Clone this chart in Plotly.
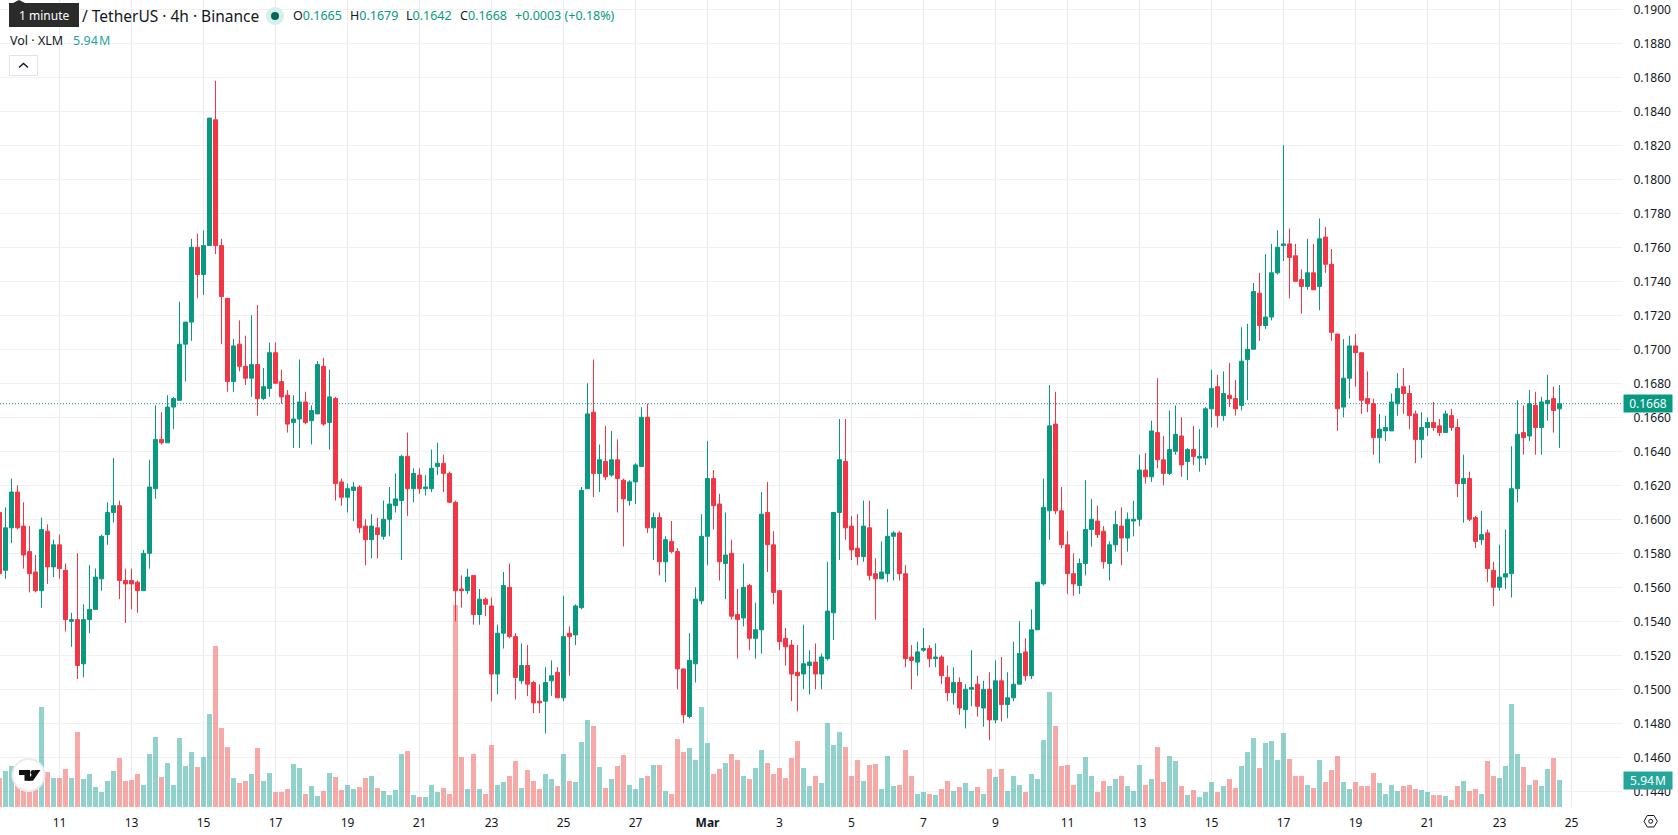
import pandas as pd
import plotly.graph_objects as go

# XLM / USDT, 4h candles. Prices are in ten-thousandths of a dollar, volume in millions.
START = "2022-02-09 08:00"
PRICE_UNIT = 10000

OPEN = [
    1604,1570,1595,1616,1596,1581,1569,1558,1593,1572,
    1585,1570,1540,1541,1515,1541,1547,1565,1591,1604,
    1608,1564,1564,1563,1558,1580,1618,1647,1645,1666,
    1670,1703,1716,1760,1744,1761,1835,1761,1730,1681,
    1703,1690,1683,1691,1671,1677,1698,1681,1673,1657,
    1659,1669,1658,1662,1690,1657,1671,1622,1613,1617,
    1619,1596,1588,1595,1590,1600,1608,1611,1637,1618,
    1626,1618,1618,1631,1633,1627,1610,1559,1558,1567,
    1544,1553,1549,1509,1533,1560,1531,1505,1514,1504,
    1493,1493,1505,1510,1495,1533,1532,1548,1618,1663,
    1627,1634,1626,1635,1623,1611,1622,1631,1660,1595,
    1601,1575,1587,1581,1512,1484,1515,1552,1590,1624,
    1609,1574,1580,1544,1542,1561,1530,1535,1604,1585,
    1558,1530,1526,1510,1509,1514,1516,1509,1518,1545,
    1604,1634,1596,1583,1578,1595,1568,1565,1568,1590,
    1592,1568,1519,1516,1523,1524,1518,1519,1507,1498,
    1504,1488,1500,1503,1489,1500,1482,1505,1491,1495,
    1503,1522,1508,1535,1562,1605,1656,1605,1585,1568,
    1561,1574,1594,1599,1593,1574,1585,1596,1589,1599,
    1600,1629,1625,1651,1635,1627,1640,1649,1634,1641,
    1636,1636,1665,1678,1661,1673,1671,1667,1694,1700,
    1733,1714,1719,1745,1761,1762,1755,1741,1737,1745,
    1737,1766,1750,1709,1666,1683,1702,1698,1671,1668,
    1648,1652,1652,1668,1678,1674,1662,1647,1654,1657,
    1655,1651,1661,1654,1621,1624,1601,1588,1592,1570,
    1560,1566,1568,1618,1651,1649,1667,1654,1668,1671,
    1665,
]
HIGH = [
    1606,1607,1624,1620,1610,1596,1579,1601,1597,1588,
    1591,1574,1545,1580,1550,1573,1571,1591,1610,1636,
    1611,1571,1571,1564,1582,1635,1667,1663,1673,1672,
    1728,1716,1765,1768,1770,1836,1858,1765,1730,1706,
    1717,1708,1720,1726,1689,1704,1704,1688,1676,1673,
    1694,1675,1667,1693,1695,1688,1672,1624,1621,1622,
    1620,1600,1603,1601,1611,1619,1627,1638,1651,1630,
    1630,1626,1641,1645,1638,1628,1611,1567,1571,1567,
    1559,1554,1554,1538,1569,1574,1533,1527,1526,1505,
    1503,1513,1517,1513,1555,1537,1550,1619,1680,1694,
    1644,1655,1652,1647,1624,1623,1633,1666,1668,1604,
    1604,1590,1599,1583,1512,1533,1560,1603,1646,1629,
    1615,1604,1588,1559,1574,1562,1551,1616,1622,1593,
    1558,1536,1529,1526,1538,1523,1527,1521,1575,1604,
    1659,1659,1602,1603,1611,1611,1577,1587,1606,1593,
    1593,1573,1526,1528,1536,1526,1527,1520,1514,1513,
    1507,1503,1523,1508,1505,1510,1517,1519,1510,1528,
    1540,1530,1547,1563,1624,1679,1675,1619,1593,1580,
    1577,1623,1612,1608,1596,1587,1605,1607,1604,1611,
    1638,1639,1658,1683,1649,1664,1667,1660,1642,1655,
    1653,1666,1688,1685,1687,1692,1682,1713,1715,1739,
    1745,1756,1762,1770,1820,1771,1762,1747,1765,1762,
    1777,1772,1759,1709,1706,1708,1709,1698,1687,1671,
    1662,1661,1674,1686,1689,1679,1664,1663,1660,1669,
    1659,1664,1665,1659,1638,1628,1602,1605,1594,1575,
    1585,1594,1643,1670,1667,1676,1675,1672,1685,1678,
    1679,
]
LOW = [
    1566,1565,1586,1594,1571,1557,1557,1548,1562,1566,
    1565,1534,1525,1506,1507,1533,1547,1558,1585,1598,
    1553,1539,1547,1545,1558,1571,1612,1644,1645,1653,
    1670,1681,1705,1730,1732,1761,1756,1703,1675,1675,
    1687,1679,1672,1661,1670,1672,1680,1668,1651,1642,
    1642,1656,1644,1662,1655,1641,1611,1608,1604,1599,
    1592,1573,1577,1577,1588,1590,1604,1576,1602,1610,
    1615,1614,1616,1626,1616,1610,1540,1548,1556,1538,
    1538,1543,1493,1497,1524,1530,1494,1503,1496,1486,
    1486,1474,1496,1495,1493,1508,1526,1547,1618,1613,
    1616,1623,1625,1604,1584,1608,1609,1631,1592,1576,
    1567,1563,1580,1500,1480,1483,1504,1550,1573,1594,
    1564,1553,1541,1518,1537,1523,1518,1521,1569,1550,
    1523,1514,1493,1487,1500,1497,1500,1500,1517,1529,
    1576,1588,1576,1573,1575,1564,1541,1565,1563,1564,
    1564,1513,1500,1508,1522,1513,1513,1503,1493,1491,
    1485,1477,1490,1484,1478,1470,1480,1481,1483,1493,
    1503,1505,1506,1535,1561,1588,1603,1583,1556,1555,
    1556,1567,1584,1589,1571,1564,1581,1573,1581,1590,
    1596,1621,1622,1630,1620,1626,1638,1625,1623,1632,
    1628,1632,1654,1654,1658,1666,1661,1664,1670,1700,
    1705,1712,1717,1744,1752,1730,1740,1721,1735,1735,
    1723,1745,1705,1652,1660,1671,1678,1662,1663,1638,
    1633,1646,1652,1661,1662,1653,1633,1636,1649,1652,
    1649,1651,1652,1613,1598,1599,1583,1585,1563,1549,
    1558,1559,1554,1610,1638,1646,1638,1638,1658,1651,
    1642,
]
CLOSE = [
    1568,1595,1616,1595,1579,1568,1558,1594,1572,1585,
    1571,1541,1541,1514,1541,1547,1566,1590,1604,1608,
    1564,1562,1562,1558,1580,1619,1647,1645,1666,1671,
    1703,1716,1760,1744,1761,1836,1761,1731,1681,1702,
    1690,1683,1691,1671,1678,1698,1680,1672,1656,1659,
    1669,1657,1664,1691,1656,1672,1621,1613,1618,1619,
    1595,1588,1596,1591,1600,1609,1612,1637,1618,1627,
    1618,1619,1630,1633,1627,1610,1558,1558,1566,1544,
    1553,1550,1509,1533,1561,1531,1507,1514,1503,1492,
    1492,1504,1508,1495,1531,1531,1549,1617,1662,1627,
    1635,1625,1635,1624,1612,1622,1632,1660,1595,1601,
    1575,1588,1581,1512,1485,1517,1553,1590,1624,1608,
    1575,1579,1543,1541,1560,1530,1535,1603,1585,1557,
    1528,1525,1509,1508,1515,1516,1509,1519,1546,1604,
    1635,1595,1582,1578,1596,1567,1565,1569,1590,1592,
    1568,1518,1517,1522,1524,1518,1519,1508,1498,1504,
    1489,1500,1501,1490,1500,1482,1505,1491,1495,1503,
    1521,1508,1535,1563,1607,1655,1605,1585,1568,1562,
    1574,1594,1600,1591,1575,1585,1597,1589,1600,1600,
    1629,1625,1652,1635,1627,1641,1650,1632,1641,1637,
    1637,1665,1677,1661,1674,1671,1665,1693,1700,1734,
    1714,1719,1745,1760,1762,1754,1740,1737,1745,1735,
    1765,1750,1710,1665,1683,1702,1698,1670,1668,1648,
    1653,1654,1669,1677,1674,1661,1647,1654,1657,1654,
    1651,1662,1654,1621,1624,1600,1587,1591,1571,1560,
    1566,1568,1618,1650,1648,1668,1654,1669,1670,1664,
    1668,
]
VOLUME = [
    6.4,7.9,9.1,5.7,4.8,3.5,4.8,22.2,7.7,6.4,
    6.4,8.4,6.4,16.6,6.2,7.3,4.4,3.3,5.7,7.9,
    10.8,5.7,5.9,7.3,5.0,11.7,15.5,6.6,9.7,5.0,
    15.3,9.1,12.2,8.8,11.1,20.6,35.8,17.5,13.3,6.4,
    5.3,5.7,7.3,13.1,5.7,7.5,3.3,3.3,3.9,9.5,
    8.6,3.0,4.6,2.4,3.5,7.5,6.6,3.7,5.0,3.9,
    4.4,6.4,7.0,4.2,3.5,2.6,3.7,11.7,12.4,2.6,
    2.2,2.2,4.8,3.3,4.2,3.0,45.0,11.1,3.9,11.9,
    3.9,2.8,13.9,5.0,5.5,7.0,10.2,4.2,8.2,5.7,
    3.9,7.3,6.2,4.6,11.7,5.7,5.5,14.4,19.3,18.0,
    8.8,4.2,6.2,9.1,11.5,5.0,3.9,6.4,7.0,9.3,
    9.3,3.5,3.0,15.1,12.2,13.1,10.4,22.2,14.2,7.3,
    8.4,9.7,11.7,10.4,7.0,6.2,8.6,12.6,9.9,7.3,
    8.6,6.4,10.8,14.6,8.6,4.6,7.0,5.3,18.6,13.9,
    16.6,13.3,6.8,10.4,5.7,9.3,9.5,3.9,11.3,4.6,
    4.8,12.6,7.0,2.8,3.3,3.0,2.6,3.9,5.7,3.5,
    4.4,5.3,3.5,4.4,2.8,8.4,6.6,8.4,3.5,6.8,
    4.8,3.3,7.3,6.2,14.8,25.5,18.0,9.1,9.3,5.0,
    7.3,11.1,6.8,3.3,5.7,4.6,6.2,6.8,4.6,3.5,
    9.3,5.0,6.2,13.3,5.5,11.3,10.2,4.6,2.6,3.7,
    2.2,3.3,5.5,3.3,4.6,6.2,4.2,9.1,12.2,15.3,
    8.6,14.2,14.6,10.4,16.4,10.6,6.8,7.0,4.8,4.2,
    10.4,5.5,8.2,11.3,5.5,3.9,5.5,4.6,4.6,7.5,
    5.3,3.0,4.8,3.5,4.6,5.0,3.9,3.7,3.3,2.6,
    2.6,2.4,1.5,4.6,5.7,3.5,3.9,3.0,10.2,7.0,
    6.4,9.1,22.9,11.9,8.8,5.0,5.9,4.6,8.4,10.8,
    5.94,
]
DATE_TICKS = ["2022-02-11","2022-02-13","2022-02-15","2022-02-17","2022-02-19","2022-02-21",
              "2022-02-23","2022-02-25","2022-02-27","2022-03-01","2022-03-03","2022-03-05",
              "2022-03-07","2022-03-09","2022-03-11","2022-03-13","2022-03-15","2022-03-17",
              "2022-03-19","2022-03-21","2022-03-23","2022-03-25"]
DATE_LABELS = ["11","13","15","17","19","21","23","25","27","<b>Mar</b>","3","5","7","9",
               "11","13","15","17","19","21","23","25"]

WIDTH, HEIGHT = 1678, 835
PLOT_W, PLOT_H = 1622, 807
UP, DOWN = "#089981", "#F23645"
VOL_UP, VOL_DOWN = "rgba(38,166,154,0.5)", "rgba(239,83,80,0.5)"
GRID_V, GRID_H = "#ebebee", "#f1f1f4"
INK = "#131722"
DARK = "#2b2b2b"
FONT = "Noto Sans"

times = pd.date_range(START, periods=len(CLOSE), freq="4h")
to_price = lambda seq: [v / PRICE_UNIT for v in seq]
vol_colors = [VOL_UP if c >= o else VOL_DOWN for o, c in zip(OPEN, CLOSE)]

# Axis windows: 6px per candle, Feb 11 00:00 centred on a pixel 59.5px from the left edge
origin = pd.Timestamp("2022-02-11")
hours_per_px = 4 / 6
x_range = [origin - pd.Timedelta(hours=59.5 * hours_per_px),
           origin + pd.Timedelta(hours=(PLOT_W - 59.5) * hours_per_px)]
price_range = [0.19 - (PLOT_H - 9.3) / 17000, 0.19 + 9.3 / 17000]
volume_range = [0, PLOT_H * 5.94 / 26.7]

fig = go.Figure()
fig.add_trace(go.Bar(x=times, y=VOLUME, marker=dict(color=vol_colors, line_width=0),
                     width=[4 * 3600 * 1000 * 5 / 6] * len(VOLUME), yaxis="y", hoverinfo="skip"))
fig.add_trace(go.Candlestick(
    x=times, open=to_price(OPEN), high=to_price(HIGH), low=to_price(LOW), close=to_price(CLOSE),
    yaxis="y2", whiskerwidth=0,
    increasing=dict(line=dict(color=UP, width=1), fillcolor=UP),
    decreasing=dict(line=dict(color=DOWN, width=1), fillcolor=DOWN),
))


def px(x):
    return x / PLOT_W


def py(y):
    return 1 - y / PLOT_H


def note(text, x, y, size=12.5, color=INK, anchor="left"):
    return dict(text=text, xref="paper", yref="paper", x=px(x), y=py(y), xanchor=anchor, yanchor="middle",
                showarrow=False, font=dict(family=FONT, size=size, color=color), borderpad=0)


def box(x0, y0, x1, y1, fill, line="rgba(0,0,0,0)", kind="rect", width=1):
    return dict(type=kind, xref="paper", yref="paper", x0=px(x0), x1=px(x1), y0=py(y0), y1=py(y1),
                fillcolor=fill, line=dict(color=line, width=width))


def poly(points, fill="rgba(0,0,0,0)", line="rgba(0,0,0,0)", width=1, closed=True):
    d = "M" + " L".join(f"{px(x):.6f},{py(y):.6f}" for x, y in points) + (" Z" if closed else "")
    return dict(type="path", xref="paper", yref="paper", path=d, fillcolor=fill,
                line=dict(color=line, width=width))


shapes = [
    # Last-price line, under the candles
    dict(type="line", xref="x", yref="y2", x0=x_range[0], x1=x_range[1],
         y0=CLOSE[-1] / PRICE_UNIT, y1=CLOSE[-1] / PRICE_UNIT, layer="below",
         line=dict(color=UP, width=1, dash="1px,2px")),
    # Tooltip over the symbol name
    box(9, 3, 79, 27, DARK),
    poly([(13, 3), (19, 0), (25, 3)], fill=DARK),
    # Market-status dot
    box(266, 7, 284, 25, "#d6efe9", kind="circle"),
    box(271, 12, 279, 20, "#056656", kind="circle"),
    # Collapse button with its chevron
    box(9.5, 55.5, 37.5, 75.5, "#ffffff", line="#e0e3eb"),
    poly([(19, 67.5), (23.5, 63.5), (28, 67.5)], line=INK, width=1.4, closed=False),
    # Watermark badge
    box(12.5, 759, 44.5, 791, "#ffffff", line="#ececf0", kind="circle", width=2),
    poly([(19, 770), (30, 770), (30, 780.7), (24.5, 780.7), (24.5, 775), (19, 775)], fill="#111111"),
    box(30.5, 770, 35.5, 775, "#111111", kind="circle"),
    poly([(35, 770), (40.5, 770), (33, 780.7), (27.5, 780.7)], fill="#111111"),
    # Settings gear
    poly([(1644, 821.3), (1647.3, 815.5), (1654, 815.5), (1657.3, 821.3), (1654, 827), (1647.3, 827)],
         line=INK, width=1),
    box(1648.7, 819.3, 1652.7, 823.3, "rgba(0,0,0,0)", line=INK, kind="circle"),
]

annotations = [
    note("1 minute", 44, 15.5, size=12, color="#ffffff", anchor="center"),
    note("/ TetherUS · 4h · Binance", 81, 16, size=15.5),
    note("Vol · XLM", 9, 40.7),
    note("5.94\u200aM", 72, 40.7, color="#26a69a"),
]
for letter, x, value in zip("OHLC", [292, 349, 405, 459],
                            [OPEN[-1], HIGH[-1], LOW[-1], CLOSE[-1]]):
    annotations.append(note(f'{letter}<span style="color:{UP}">{value / PRICE_UNIT:.4f}</span>', x, 16))
change = CLOSE[-1] - OPEN[-1]
annotations.append(note(f"+{change / PRICE_UNIT:.4f} (+{change / OPEN[-1] * 100:.2f}%)", 514, 16, color=UP))

# Value tags on the right-hand scale
annotations.append(dict(text=f"{CLOSE[-1] / PRICE_UNIT:.4f}", xref="paper", yref="y2", x=px(1623),
                        y=CLOSE[-1] / PRICE_UNIT, xanchor="left", yanchor="middle", showarrow=False,
                        width=48, height=17, bgcolor=UP, borderpad=0,
                        font=dict(family=FONT, size=12, color="#ffffff")))
annotations.append(dict(text=f"{VOLUME[-1]:.2f}\u200aM", xref="paper", yref="y", x=px(1623),
                        y=VOLUME[-1], xanchor="left", yanchor="middle", showarrow=False,
                        width=48, height=17, bgcolor="#26a69a", borderpad=0,
                        font=dict(family=FONT, size=12, color="#ffffff")))

fig.update_layout(
    width=WIDTH, height=HEIGHT, margin=dict(l=0, r=WIDTH - PLOT_W, t=0, b=HEIGHT - PLOT_H),
    paper_bgcolor="#ffffff", plot_bgcolor="#ffffff", showlegend=False, bargap=0,
    boxgap=1 / 3, boxgroupgap=0,
    font=dict(family=FONT, size=12, color=INK), shapes=shapes, annotations=annotations,
    xaxis=dict(type="date", range=x_range, rangeslider=dict(visible=False), tickmode="array",
               tickvals=DATE_TICKS, ticktext=DATE_LABELS, showgrid=True, gridcolor=GRID_V, gridwidth=1,
               ticks="outside", ticklen=5, tickcolor="rgba(0,0,0,0)", showline=False, zeroline=False,
               tickfont=dict(family=FONT, size=12, color=INK)),
    yaxis=dict(range=volume_range, visible=False, showgrid=False, zeroline=False),
    yaxis2=dict(range=price_range, overlaying="y", side="right", tick0=0.144, dtick=0.002, tickformat=".4f",
                showgrid=True, gridcolor=GRID_H, gridwidth=1, zeroline=False, showline=False,
                ticks="outside", ticklen=8, tickcolor="rgba(0,0,0,0)",
                tickfont=dict(family=FONT, size=12, color=INK)),
)

fig.write_html("out.html", config=dict(displayModeBar=False))
